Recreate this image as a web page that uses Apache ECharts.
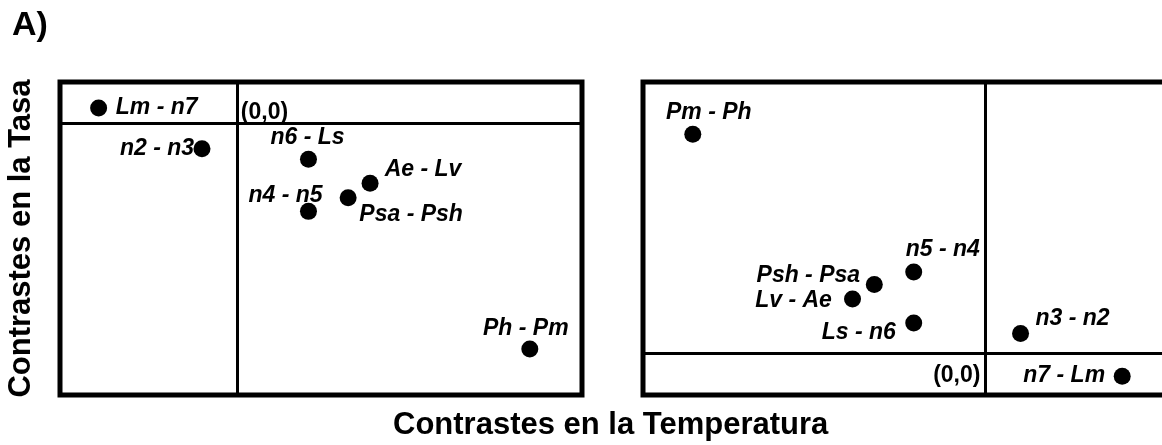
<!DOCTYPE html>
<html>
<head>
<meta charset="utf-8">
<script src="https://cdn.jsdelivr.net/npm/echarts@6/dist/echarts.min.js"></script>
<style>
  html, body { margin: 0; padding: 0; background: #fff; }
  #chart { width: 1162px; height: 445px; }
</style>
</head>
<body>
<div id="chart"></div>
<script>
/* =================  数据：左图（温度对比 vs 速率对比）  ================= */
const leftNames = ['Lm - n7', 'n2 - n3', 'n6 - Ls', 'Ae - Lv', 'Psa - Psh', 'n4 - n5', 'Ph - Pm'];
const leftTemp  = [-1.33, -0.34, 0.68, 1.27, 1.06, 0.68, 2.80];
const leftRate  = [0.15, -0.24, -0.34, -0.57, -0.71, -0.84, -2.16];

/* =================  数据：右图（反向对比）  ================= */
const rightNames = ['Pm - Ph', 'n5 - n4', 'Psh - Psa', 'Lv - Ae', 'Ls - n6', 'n3 - n2', 'n7 - Lm'];
const rightTemp  = [-2.82, -0.69, -1.07, -1.28, -0.69, 0.34, 1.32];
const rightRate  = [2.10, 0.78, 0.66, 0.52, 0.29, 0.19, -0.22];

const originText = '(0,0)';
const panelTitle = 'A)';
const xTitle = 'Contrastes en la Temperatura';
const yTitle = 'Contrastes en la Tasa';

/* 标签相对圆点的偏移（样式，不是数据） */
const labelShift = {
    'Lm - n7': [58, 0], 'n2 - n3': [-45, 0], 'n6 - Ls': [-1, -22], 'Ae - Lv': [53, -14],
    'Psa - Psh': [63, 17], 'n4 - n5': [-23, -16], 'Ph - Pm': [-4, -20],
    'Pm - Ph': [16, -22], 'n5 - n4': [29, -22], 'Psh - Psa': [-66, -9], 'Lv - Ae': [-59, 2],
    'Ls - n6': [-55, 10], 'n3 - n2': [52, -15], 'n7 - Lm': [-58, -1]
};
const originShift = [[27, -11.5], [-28.5, 22.5]];

const FONT = '"Liberation Sans", Arial, sans-serif';
const labelFont = { color: '#000', opacity: 1, fontFamily: FONT, fontSize: 23, fontWeight: 'bold' };

function pointSeries(names, xs, ys, gi) {
    return {
        type: 'scatter',
        xAxisIndex: gi, yAxisIndex: gi,
        symbolSize: 17,
        itemStyle: { color: '#000', opacity: 1 },
        label: { show: true, position: 'inside', formatter: '{b}', fontStyle: 'italic', ...labelFont },
        data: names.map((n, i) => ({ name: n, value: [xs[i], ys[i]], label: { offset: labelShift[n] } })),
        markLine: {
            silent: true,
            symbol: ['none', 'none'],
            label: { show: false },
            lineStyle: { color: '#000', width: 3, type: 'solid', opacity: 1 },
            data: [{ xAxis: 0 }, { yAxis: 0 }]
        },
        z: 3
    };
}

function originSeries(gi) {
    return {
        type: 'scatter',
        xAxisIndex: gi, yAxisIndex: gi,
        symbolSize: 0,
        itemStyle: { opacity: 1 },
        label: { show: true, position: 'inside', formatter: originText, offset: originShift[gi], ...labelFont },
        data: [[0, 0]],
        z: 4
    };
}

const gridBox = { show: true, borderColor: '#000', borderWidth: 5, backgroundColor: 'transparent', outerBoundsMode: 'none' };
const hiddenAxis = { axisLine: { show: false }, axisTick: { show: false }, axisLabel: { show: false }, splitLine: { show: false } };

const chart = echarts.init(document.getElementById('chart'));
chart.setOption({
    animation: false,
    backgroundColor: '#fff',
    title: [
        { text: panelTitle, left: 12, top: 9, padding: 0,
          textStyle: { color: '#000', fontFamily: FONT, fontSize: 34, fontWeight: 'bold' } },
        { text: xTitle, left: 393, top: 410, padding: 0,
          textStyle: { color: '#000', fontFamily: FONT, fontSize: 31, fontWeight: 'bold' } }
    ],
    grid: [
        { left: 60, top: 82, width: 522, height: 313, ...gridBox },
        { left: 643, top: 82, width: 529, height: 313, ...gridBox }
    ],
    xAxis: [
        { type: 'value', gridIndex: 0, min: -1.7, max: 3.3, show: false },
        { type: 'value', gridIndex: 1, min: -3.3, max: 1.8, show: false }
    ],
    yAxis: [
        { type: 'value', gridIndex: 0, min: -2.6, max: 0.4, ...hiddenAxis,
          name: yTitle, nameLocation: 'middle', nameGap: 23,
          nameTextStyle: { color: '#000', fontFamily: FONT, fontSize: 31, fontWeight: 'bold' } },
        { type: 'value', gridIndex: 1, min: -0.4, max: 2.6, show: false }
    ],
    series: [
        pointSeries(leftNames, leftTemp, leftRate, 0),
        pointSeries(rightNames, rightTemp, rightRate, 1),
        originSeries(0),
        originSeries(1)
    ]
});
window.addEventListener('resize', () => chart.resize());
</script>
</body>
</html>
